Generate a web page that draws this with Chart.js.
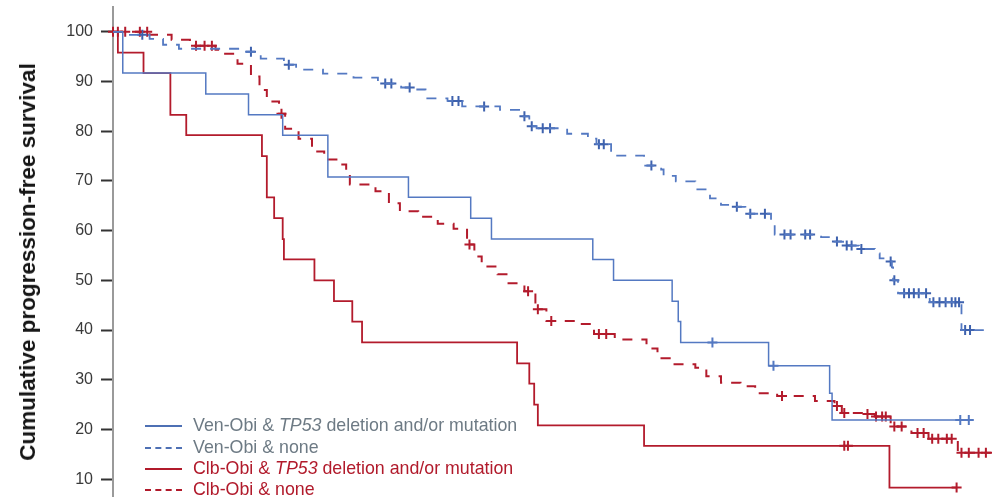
<!DOCTYPE html>
<html>
<head>
<meta charset="utf-8">
<script src="https://cdn.jsdelivr.net/npm/chart.js@4"></script>
<style>
  html, body { margin: 0; padding: 0; background: #fff; }
  #wrap { position: relative; width: 999px; height: 497px; overflow: hidden; }
  #c { position: absolute; left: 0; top: 0; }
  #ytitle { position: absolute; left: 28px; top: 262px; transform: translate(-50%, -50%) rotate(-90deg);
    font: bold 22.5px "Liberation Sans", Arial, sans-serif; color: #151515; white-space: nowrap; }
  .lg { position: absolute; left: 145px; height: 20px; font: 17.8px "Liberation Sans", Arial, sans-serif; white-space: nowrap; }
  .lg .s { position: absolute; left: 0; top: 10px; width: 37px; height: 0; }
  .lg .t { position: absolute; left: 48px; top: 0; line-height: 20px; }
</style>
</head>
<body>
<div id="wrap">
  <canvas id="c" width="999" height="505"></canvas>
  <div id="ytitle">Cumulative progression-free survival</div>
  <div class="lg" style="top:415px"><div class="s" style="border-top:2px solid #4e70b4"></div><div class="t" style="color:#6d7a84">Ven-Obi &amp; <i>TP53</i> deletion and/or mutation</div></div>
  <div class="lg" style="top:437px"><div class="s" style="border-top:2px dashed #4e70b4"></div><div class="t" style="color:#6d7a84">Ven-Obi &amp; none</div></div>
  <div class="lg" style="top:458px"><div class="s" style="border-top:2px solid #b11a2b"></div><div class="t" style="color:#b11a2b">Clb-Obi &amp; <i>TP53</i> deletion and/or mutation</div></div>
  <div class="lg" style="top:479px"><div class="s" style="border-top:2px dashed #b11a2b"></div><div class="t" style="color:#b11a2b">Clb-Obi &amp; none</div></div>
</div>
<script>
// Y axis tick labels
const yTicks = [10, 20, 30, 40, 50, 60, 70, 80, 90, 100];

// Ven-Obi & TP53 deletion and/or mutation (months, % PFS)
const venTp53Time = [0, 0.8, 7.6, 11.1, 13.9, 17.6, 24.2, 29.3, 31.0, 39.3, 41.0, 45.8, 46.3, 46.5, 53.7, 58.7, 58.9, 70.3];
const venTp53Surv = [100, 91.7, 87.5, 83.3, 79.2, 70.8, 66.7, 62.5, 58.3, 54.2, 50.0, 45.8, 41.7, 37.5, 32.8, 27.3, 21.9, 21.9];
const venTp53Cens = [49.1, 54.1, 69.4, 70.1];

// Ven-Obi & none
const venNoneTime = [0, 1.0, 3.0, 4.1, 5.4, 10.7, 12.1, 14.0, 15.0, 17.2, 19.7, 21.7, 23.6, 24.8, 25.6, 27.4, 28.6, 31.7, 33.4, 34.1, 34.7, 37.2, 38.9, 39.6, 40.8, 43.5, 44.9, 45.1, 46.1, 47.7, 48.9, 49.8, 50.8, 51.8, 53.9, 54.2, 58.0, 59.1, 59.8, 61.1, 62.4, 62.8, 63.6, 63.8, 63.9, 64.3, 66.9, 69.5, 72.0];
const venNoneSurv = [100, 99.4, 98.6, 97.4, 96.6, 96.0, 94.6, 93.4, 92.4, 91.6, 90.8, 89.6, 88.8, 88.4, 86.6, 86.1, 85.0, 84.3, 83.0, 81.0, 80.6, 79.5, 78.5, 77.4, 75.1, 73.1, 72.3, 71.0, 69.9, 68.3, 66.5, 65.2, 64.8, 63.4, 61.4, 59.2, 58.7, 57.8, 57.0, 56.3, 55.4, 54.4, 53.8, 52.6, 50.0, 47.4, 45.6, 40.0, 40.0];
const venNoneCens = [2.4, 11.3, 14.4, 22.3, 22.8, 24.3, 27.8, 28.3, 30.4, 33.7, 34.3, 35.2, 35.8, 39.8, 40.2, 44.1, 51.1, 52.2, 53.4, 55.0, 55.5, 56.7, 57.1, 59.3, 60.1, 60.5, 61.3, 63.7, 64.0, 64.8, 65.2, 65.6, 66.0, 66.6, 67.2, 67.7, 68.2, 68.7, 69.0, 69.3, 69.8, 70.2];

// Clb-Obi & TP53 deletion and/or mutation
const clbTp53Time = [0, 0.4, 2.5, 4.7, 6.0, 12.2, 12.6, 13.2, 13.9, 14.0, 16.5, 18.1, 19.6, 20.4, 33.1, 34.1, 34.5, 34.8, 43.5, 63.6, 69.1];
const clbTp53Surv = [100, 95.8, 91.7, 83.3, 79.2, 75.0, 66.7, 62.5, 58.3, 54.2, 50.0, 45.8, 41.7, 37.5, 33.3, 29.2, 25.0, 20.8, 16.7, 8.3, 8.3];
const clbTp53Cens = [59.9, 60.2, 69.1];

// Clb-Obi & none
const clbNoneTime = [0, 3.0, 4.8, 6.3, 8.4, 9.0, 10.2, 11.3, 12.0, 12.6, 13.6, 14.1, 15.2, 16.3, 17.3, 18.3, 19.1, 19.4, 21.5, 22.6, 23.5, 25.0, 26.6, 27.9, 29.0, 29.6, 30.2, 31.5, 32.4, 33.7, 34.6, 35.5, 38.1, 39.4, 41.1, 43.7, 44.6, 45.6, 47.7, 48.6, 49.8, 51.4, 52.6, 54.4, 57.5, 59.1, 59.7, 61.5, 62.4, 63.7, 65.4, 66.8, 69.2, 72.0];
const clbNoneSurv = [100, 99.4, 98.4, 97.2, 96.4, 95.6, 93.6, 91.0, 88.3, 86.0, 83.5, 80.5, 78.5, 75.9, 74.3, 73.3, 71.3, 69.3, 67.9, 65.5, 63.9, 62.8, 61.4, 60.4, 57.2, 54.8, 52.8, 51.2, 49.4, 47.8, 44.2, 41.8, 41.2, 39.2, 38.1, 36.3, 34.3, 33.1, 32.4, 30.7, 29.4, 28.7, 27.3, 26.7, 25.7, 24.7, 23.3, 23.1, 22.6, 20.6, 19.3, 18.1, 15.3, 15.3];
const clbNoneCens = [0, 0.4, 1.0, 2.2, 2.8, 6.8, 7.5, 8.1, 13.8, 29.2, 34.0, 34.8, 35.9, 39.8, 40.4, 54.8, 59.3, 59.9, 61.8, 62.5, 63.0, 63.3, 64.0, 64.6, 65.9, 66.4, 67.1, 67.6, 68.3, 68.7, 69.5, 70.1, 70.9, 71.5];

const BLUE = '#5479c2', BLUE_MARK = '#3e62ae', RED = '#b31b2c';

function pts(t, s) { return t.map((x, i) => ({ x: x, y: s[i] })); }
function survAt(t, s, x) { let v = s[0]; for (let i = 0; i < t.length; i++) { if (t[i] <= x) v = s[i]; } return v; }
function cens(t, s, c) { return c.map(x => ({ x: x, y: survAt(t, s, x) })); }

function curve(t, s, color, dashed, width) {
  return { type: 'line', data: pts(t, s), borderColor: color, borderWidth: width, borderDash: dashed ? [10, 9] : [],
    stepped: true, pointRadius: 0, fill: false, tension: 0, clip: false };
}
function marks(t, s, c, color) {
  return { type: 'scatter', data: cens(t, s, c), pointStyle: 'cross', pointRadius: 5, pointBorderWidth: 2,
    borderColor: color, backgroundColor: color, showLine: false, clip: false };
}

new Chart(document.getElementById('c'), {
  type: 'line',
  data: {
    datasets: [
      curve(venNoneTime, venNoneSurv, BLUE, true, 1.8),
      curve(venTp53Time, venTp53Surv, BLUE, false, 1.5),
      curve(clbNoneTime, clbNoneSurv, RED, true, 2),
      curve(clbTp53Time, clbTp53Surv, RED, false, 1.8),
      marks(venNoneTime, venNoneSurv, venNoneCens, BLUE_MARK),
      marks(venTp53Time, venTp53Surv, venTp53Cens, BLUE),
      marks(clbNoneTime, clbNoneSurv, clbNoneCens, RED),
      marks(clbTp53Time, clbTp53Surv, clbTp53Cens, RED)
    ]
  },
  options: {
    responsive: false,
    animation: false,
    layout: { padding: { top: 5, right: 0, bottom: 0, left: 0 } },
    plugins: { legend: { display: false }, tooltip: { enabled: false } },
    scales: {
      x: { type: 'linear', min: 0, max: 72, display: false },
      y: {
        type: 'linear', min: 6.2, max: 105,
        afterBuildTicks: (sc) => { sc.ticks = yTicks.map(v => ({ value: v })); },
        afterFit: (sc) => { sc.width = 113; sc.paddingTop = 0; sc.paddingBottom = 0; },
        grid: { drawOnChartArea: false, drawTicks: true, tickLength: 12, tickColor: '#333', tickWidth: 2 },
        border: { display: true, color: '#9a9a9a', width: 2 },
        ticks: { color: '#3a3a3a', padding: 8, font: { family: 'Liberation Sans', size: 16 } }
      }
    }
  }
});
</script>
</body>
</html>
